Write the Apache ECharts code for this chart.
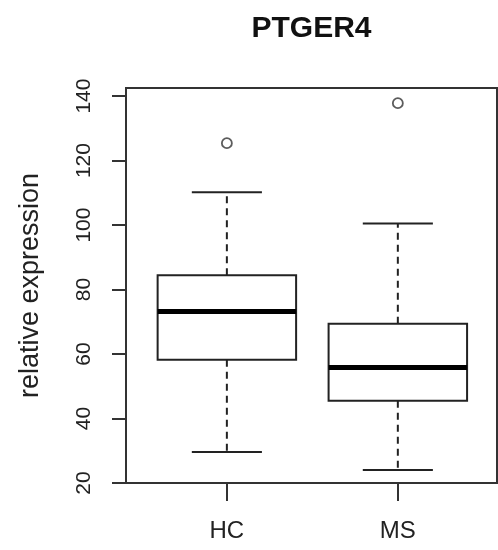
<!DOCTYPE html>
<html>
<head>
<meta charset="utf-8">
<script src="https://cdn.jsdelivr.net/npm/echarts@6/dist/echarts.min.js"></script>
<style>
html,body{margin:0;padding:0;background:#fff;}
#chart{width:498px;height:550px;}
</style>
</head>
<body>
<div id="chart"></div>
<script>
// ---- data ----
const categories = ['HC', 'MS'];
const minVals    = [29.6, 24.0];
const q1Vals     = [58.2, 45.5];
const medianVals = [73.2, 55.8];
const q3Vals     = [84.4, 69.4];
const maxVals    = [110.2, 100.5];
const outlierCat = [0, 1];
const outlierVal = [125.4, 137.8];
const yTicks     = [20, 40, 60, 80, 100, 120, 140];

// ---- build ----
const positions = categories.map((c, i) => i + 1);
const boxData = categories.map((c, i) => [positions[i], minVals[i], q1Vals[i], medianVals[i], q3Vals[i], maxVals[i]]);
const outlierData = outlierCat.map((ci, k) => [positions[ci], outlierVal[k]]);

const FONT = 'Liberation Sans, Arial, Helvetica, sans-serif';
const INK = '#222';
const BOX_W = 0.81, CAP_W = 0.41;

const chart = echarts.init(document.getElementById('chart'), null, {renderer: 'canvas'});
chart.setOption({
  animation: false,
  backgroundColor: '#fff',
  title: {
    text: 'PTGER4',
    left: 311.5, top: 14, padding: 0,
    textAlign: 'center',
    textStyle: {fontFamily: FONT, fontWeight: 'bold', fontSize: 30, color: '#111'}
  },
  grid: {
    left: 126, top: 88, width: 371, height: 395,
    show: true, borderColor: '#333', borderWidth: 2, backgroundColor: 'transparent',
    outerBoundsMode: 'none'
  },
  xAxis: {
    type: 'value', min: 0.41, max: 2.58,
    axisLine: {show: false},
    splitLine: {show: false},
    axisTick: {show: true, customValues: positions, length: 18, lineStyle: {color: '#333', width: 2}},
    axisLabel: {
      customValues: positions, margin: 36,
      formatter: v => categories[Math.round(v) - 1] || '',
      fontFamily: FONT, fontSize: 24, color: INK
    }
  },
  yAxis: {
    type: 'value', min: 20, max: 142.5,
    name: 'relative expression', nameLocation: 'middle', nameGap: 82, nameRotate: 90,
    nameTextStyle: {fontFamily: FONT, fontSize: 27, color: INK},
    axisLine: {show: false},
    splitLine: {show: false},
    axisTick: {show: true, customValues: yTicks, length: 14, lineStyle: {color: '#333', width: 2}},
    axisLabel: {
      customValues: yTicks, rotate: 90, margin: 31,
      fontFamily: FONT, fontSize: 21, color: INK
    }
  },
  series: [
    {
      type: 'custom',
      data: boxData,
      encode: {x: 0, y: [1, 2, 3, 4, 5]},
      renderItem: function (params, api) {
        const x = api.value(0);
        const vmin = api.value(1), vq1 = api.value(2), vmed = api.value(3), vq3 = api.value(4), vmax = api.value(5);
        const hb = api.size([BOX_W, 0])[0] / 2;
        const hc = api.size([CAP_W, 0])[0] / 2;
        const cx = api.coord([x, vmed])[0];
        const y = v => api.coord([x, v])[1];
        const yMin = y(vmin), yQ1 = y(vq1), yMed = y(vmed), yQ3 = y(vq3), yMax = y(vmax);
        const solid = {stroke: INK, lineWidth: 2, fill: null};
        const dashed = {stroke: INK, lineWidth: 2, lineDash: [7, 5], fill: null};
        return {
          type: 'group',
          children: [
            {type: 'line', shape: {x1: cx, y1: yQ3, x2: cx, y2: yMax}, style: dashed},
            {type: 'line', shape: {x1: cx, y1: yQ1, x2: cx, y2: yMin}, style: dashed},
            {type: 'line', shape: {x1: cx - hc, y1: yMax, x2: cx + hc, y2: yMax}, style: solid},
            {type: 'line', shape: {x1: cx - hc, y1: yMin, x2: cx + hc, y2: yMin}, style: solid},
            {type: 'rect', shape: {x: cx - hb, y: yQ3, width: 2 * hb, height: yQ1 - yQ3}, style: {stroke: INK, lineWidth: 2, fill: '#fff'}},
            {type: 'line', shape: {x1: cx - hb, y1: yMed, x2: cx + hb, y2: yMed}, style: {stroke: '#000', lineWidth: 5}}
          ]
        };
      }
    },
    {
      type: 'scatter',
      data: outlierData,
      symbol: 'circle',
      symbolSize: 10,
      itemStyle: {color: '#fff', borderColor: '#333', borderWidth: 1.8}
    }
  ]
});
</script>
</body>
</html>
